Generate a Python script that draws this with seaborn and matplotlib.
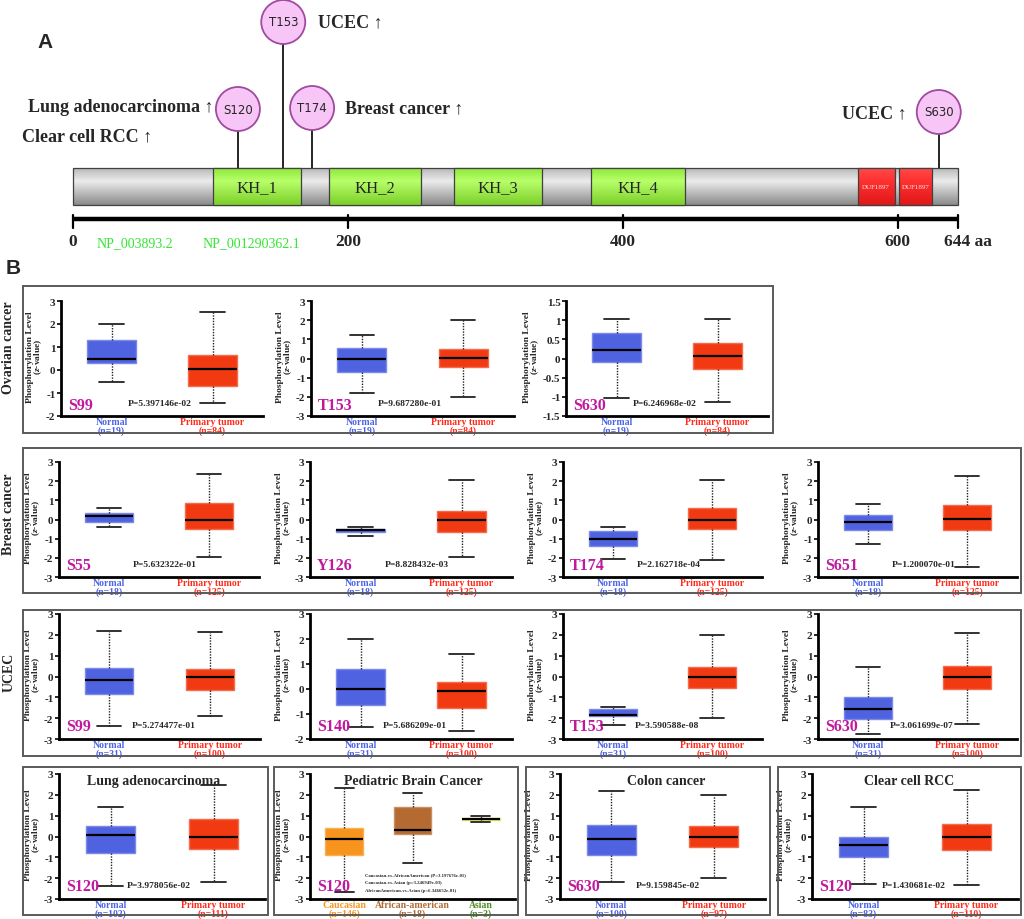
import numpy as np
import pandas as pd
import matplotlib
matplotlib.use("Agg")
import matplotlib.pyplot as plt
from matplotlib.patches import Rectangle, Ellipse
from matplotlib.colors import to_rgb
import seaborn as sns

# ---------------- Panel A data ----------------
protein_length = 644
domain_names = ["KH_1", "KH_2", "KH_3", "KH_4", "DUF1897", "DUF1897"]
domain_start = [102, 186, 277, 377, 571, 601]
domain_end = [166, 253, 341, 445, 598, 625]
site_names = ["S120", "T153", "T174", "S630"]
site_pos = [120, 153, 174, 630]
scale_ticks = [0, 200, 400, 600]
refseq_labels = ["NP_003893.2", "NP_001290362.1"]

# ---------------- Panel B data (five-number summaries: low, q1, median, q3, high) ----------------
ovarian_sites = ["S99", "T153", "S630"]
ovarian_p = ["5.397146e-02", "9.687280e-01", "6.246968e-02"]
ovarian_normal = [[-0.53, 0.29, 0.47, 1.31, 2.00], [-1.81, -0.69, -0.05, 0.53, 1.21], [-1.02, -0.09, 0.22, 0.66, 1.04]]
ovarian_tumor = [[-1.44, -0.69, 0.04, 0.66, 2.54], [-2.00, -0.45, 0.02, 0.48, 2.03], [-1.14, -0.27, 0.07, 0.40, 1.03]]
ovarian_n = [19, 84]

breast_sites = ["S55", "Y126", "T174", "S651"]
breast_p = ["5.632322e-01", "8.828432e-03", "2.162718e-04", "1.200070e-01"]
breast_normal = [[-0.41, -0.14, 0.19, 0.33, 0.62], [-0.84, -0.67, -0.57, -0.50, -0.41],
                 [-2.08, -1.39, -1.01, -0.62, -0.41], [-1.29, -0.57, -0.14, 0.21, 0.81]]
breast_tumor = [[-1.96, -0.52, -0.02, 0.84, 2.39], [-1.94, -0.67, -0.05, 0.45, 2.06],
                [-2.13, -0.50, -0.02, 0.60, 2.06], [-2.49, -0.57, 0.05, 0.74, 2.25]]
breast_n = [18, 125]

ucec_sites = ["S99", "S140", "T153", "S630"]
ucec_p = ["5.274477e-01", "5.686209e-01", "3.590588e-08", "3.061699e-07"]
ucec_normal = [[-2.39, -0.85, -0.16, 0.40, 2.18], [-1.52, -0.64, 0.00, 0.81, 2.01],
               [-2.32, -1.90, -1.85, -1.57, -1.46], [-2.76, -2.03, -1.57, -0.96, 0.47]]
ucec_tumor = [[-1.91, -0.67, -0.02, 0.35, 2.12], [-1.69, -0.76, -0.09, 0.29, 1.40],
              [-2.00, -0.57, 0.00, 0.44, 1.98], [-2.27, -0.58, -0.02, 0.49, 2.11]]
ucec_n = [31, 100]

lung_normal = [-2.38, -0.78, 0.05, 0.49, 1.41]
lung_tumor = [-2.20, -0.61, 0.00, 0.82, 2.45]
lung_n = [102, 111]
lung_p = "3.978056e-02"

ped_groups = ["Caucasian", "African-american", "Asian"]
ped_summary = [[-2.66, -0.89, -0.12, 0.43, 2.34], [-1.25, 0.14, 0.31, 1.44, 2.08], [0.70, 0.80, 0.85, 0.90, 0.99]]
ped_n = [146, 18, 3]
ped_tests = ["Caucasian-vs-AfricanAmerican (P=3.197676e-01)",
             "Caucasian-vs-Asian (p=3.246949e-03)",
             "AfricanAmerican-vs-Asian (p=6.346652e-01)"]

colon_normal = [-2.17, -0.89, -0.12, 0.54, 2.20]
colon_tumor = [-2.00, -0.49, 0.00, 0.50, 2.00]
colon_n = [100, 97]
colon_p = "9.159845e-02"

rcc_normal = [-2.30, -0.97, -0.43, 0.00, 1.42]
rcc_tumor = [-2.34, -0.66, 0.00, 0.62, 2.24]
rcc_n = [83, 110]
rcc_p = "1.430681e-02"

# ---------------- style ----------------
sns.set_theme(style="white")
plt.rcParams["font.family"] = ["Liberation Serif", "DejaVu Serif"]
plt.rcParams["font.weight"] = "bold"
plt.rcParams["axes.unicode_minus"] = False
plt.rcParams["mathtext.fontset"] = "custom"
plt.rcParams["mathtext.it"] = "Liberation Serif:italic:bold"
plt.rcParams["mathtext.rm"] = "Liberation Serif:bold"

W, H = 1024, 920
fig = plt.figure(figsize=(W / 100, H / 100), dpi=100)
fig.patch.set_facecolor("white")

BLUE = "#4f63e0"
RED = "#f23a12"
BLUE_TXT = "#4b64e6"
RED_TXT = "#ff2a1a"
MAG = "#c0189e"


def px_axes(l, t, r, b):
    return fig.add_axes([l / W, 1 - b / H, (r - l) / W, (b - t) / H])


def frame(l, t, r, b):
    fig.add_artist(Rectangle((l / W, 1 - b / H), (r - l) / W, (b - t) / H,
                             transform=fig.transFigure, fill=False, ec="#5a5a5a", lw=1.4))


# ---------------- Panel A ----------------
k = (958 - 73) / protein_length
axA = px_axes(0, 0, W, 280)
axA.set_xlim(-73 / k, (W - 73) / k)
axA.set_ylim(280, 0)
axA.axis("off")


def grad_rect(ax, x0, x1, y0, y1, top, mid, bot, zorder=2):
    t = np.linspace(0, 1, 60)
    ct, cm, cb = np.array(to_rgb(top)), np.array(to_rgb(mid)), np.array(to_rgb(bot))
    cols = []
    for v in t:
        if v < 0.35:
            a = v / 0.35
            cols.append(ct * (1 - a) + cm * a)
        else:
            a = (v - 0.35) / 0.65
            cols.append(cm * (1 - a) + cb * a)
    img = np.array(cols)[:, None, :]
    ax.imshow(img, extent=[x0, x1, y1, y0], origin="upper", aspect="auto", zorder=zorder,
              interpolation="bilinear")
    ax.add_patch(Rectangle((x0, y0), x1 - x0, y1 - y0, fill=False, ec="#404040", lw=0.9, zorder=zorder + 0.5))


bar_top, bar_bot = 169, 206
grad_rect(axA, 0, protein_length, bar_top, bar_bot, "#b8b8b8", "#ececec", "#8a8a8a", zorder=2)
for name, s, e in zip(domain_names, domain_start, domain_end):
    if name.startswith("KH"):
        grad_rect(axA, s, e, bar_top, bar_bot, "#8fe83c", "#b8ff6a", "#7ccf2a", zorder=3)
        axA.text((s + e) / 2, (bar_top + bar_bot) / 2 + 1, name, ha="center", va="center",
                 fontsize=12, fontweight="normal", zorder=5)
    else:
        grad_rect(axA, s, e, bar_top, bar_bot, "#ff4a4a", "#ff3030", "#e01818", zorder=3)
        axA.text((s + e) / 2, (bar_top + bar_bot) / 2, name, ha="center", va="center",
                 fontsize=5, fontweight="normal", color="#f8e8e8", zorder=5)

site_circle_y = {"S120": 110, "T153": 23, "T174": 109, "S630": 113}
r_px = 22
for name, pos in zip(site_names, site_pos):
    cy = site_circle_y[name]
    axA.plot([pos, pos], [bar_top, cy + r_px], color="black", lw=1.2, zorder=1)
    axA.add_patch(Ellipse((pos, cy), 2 * r_px / k, 2 * r_px, fc="#f7c6f7", ec="#a04aa0", lw=1.3, zorder=4))
    axA.text(pos, cy, name, ha="center", va="center", fontsize=8.5, fontweight="normal",
             family=["DejaVu Sans"], zorder=5)

lbl_kw = dict(fontsize=13, fontweight="bold", va="center", family=["Liberation Serif", "DejaVu Serif"])
axA.text((213 - 73) / k, 107, "Lung adenocarcinoma ↑", ha="right", **lbl_kw)
axA.text((22 - 73) / k, 137, "Clear cell RCC ↑", ha="left", **lbl_kw)
axA.text((318 - 73) / k, 23, "UCEC ↑", ha="left", **lbl_kw)
axA.text((345 - 73) / k, 109, "Breast cancer ↑", ha="left", **lbl_kw)
axA.text((907 - 73) / k, 114, "UCEC ↑", ha="right", **lbl_kw)

# scale bar
axA.plot([0, protein_length], [220, 220], color="black", lw=3.2, solid_capstyle="butt")
for tk in scale_ticks + [protein_length]:
    axA.plot([tk, tk], [216, 229], color="black", lw=1.6)
for tk in scale_ticks:
    axA.text(tk, 242, str(tk), ha="center", va="center", fontsize=12.5, fontweight="bold")
axA.text(protein_length - 10, 242, f"{protein_length} aa", ha="left", va="center", fontsize=12.5, fontweight="bold")
axA.text((135 - 73) / k, 244, refseq_labels[0], ha="center", va="center", fontsize=10,
         fontweight="normal", color="#33e633")
axA.text((251 - 73) / k, 244, refseq_labels[1], ha="center", va="center", fontsize=10,
         fontweight="normal", color="#33e633")

fig.text(45 / W, 1 - 42 / H, "A", fontsize=15, fontweight="bold", family=["Liberation Sans", "DejaVu Sans"],
         ha="center", va="center")
fig.text(13 / W, 1 - 268 / H, "B", fontsize=15, fontweight="bold", family=["Liberation Sans", "DejaVu Sans"],
         ha="center", va="center")


# ---------------- Panel B ----------------
def draw_box(ax, groups, summaries, fills, text_colors, labels, ylim, yticks, width=0.48):
    rows = []
    for g, s in zip(groups, summaries):
        for v in s:
            rows.append((g, v))
    df = pd.DataFrame(rows, columns=["group", "value"])
    sns.boxplot(data=df, x="group", y="value", hue="group", order=groups, hue_order=groups,
                palette=dict(zip(groups, fills)), saturation=1, width=width, whis=(0, 100),
                dodge=False, legend=False, linecolor="black", linewidth=1.0,
                whiskerprops=dict(linestyle=(0, (1, 1)), linewidth=1.0, color="#222222"),
                capprops=dict(linewidth=1.3, color="#222222"),
                medianprops=dict(color="black", linewidth=1.6),
                showfliers=False, ax=ax)
    for p in ax.patches:
        fc = np.array(p.get_facecolor()[:3])
        p.set_edgecolor(tuple(np.clip(fc * 0.75 + 0.25, 0, 1)))
        p.set_linewidth(1.0)
    ax.set_xlim(-0.5, len(groups) - 0.5)
    ax.set_ylim(*ylim)
    ticklabels = [f"{t:g}" for t in yticks]
    ax.set_yticks(yticks)
    ax.set_yticklabels(ticklabels)
    ax.set_xticks(range(len(groups)))
    ax.set_xticklabels(labels, fontsize=7, fontweight="bold", linespacing=0.8)
    for tl, c in zip(ax.get_xticklabels(), text_colors):
        tl.set_color(c)
    ax.set_xlabel("")
    ax.set_ylabel("Phosphorylation Level\n($\\mathit{z}$-value)", fontsize=6.8, fontweight="bold",
                  linespacing=0.8)
    w_px = ax.get_position().width * W
    off = 17 if all("." not in s for s in ticklabels) else 25
    ax.yaxis.set_label_coords(-off / w_px, 0.52)
    ax.tick_params(axis="x", length=0, pad=1)
    ax.tick_params(axis="y", length=3, width=1.4, labelsize=8, pad=1, left=True, direction="out")
    for tl in ax.get_yticklabels():
        tl.set_fontweight("bold")
    sns.despine(ax=ax)
    for side in ["left", "bottom"]:
        ax.spines[side].set_linewidth(2)
        ax.spines[side].set_color("black")
    ax.set_facecolor("none")


def site_text(ax, site, pval=None, px=0.35):
    ax.text(0.035, 0.1, site, transform=ax.transAxes, color=MAG, fontsize=11.5, fontweight="bold",
            va="center", ha="left")
    if pval is not None:
        ax.text(px, 0.11, f"P={pval}", transform=ax.transAxes, fontsize=6.8, fontweight="bold",
                va="center", ha="left")


def tn_panel(ax, site, pval, normal, tumor, n, ylim, yticks, px=0.35):
    draw_box(ax, ["Normal", "Primary tumor"], [normal, tumor], [BLUE, RED], [BLUE_TXT, RED_TXT],
             [f"Normal\n(n={n[0]})", f"Primary tumor\n(n={n[1]})"], ylim, yticks)
    site_text(ax, site, pval, px)


row_label_kw = dict(rotation=90, ha="center", va="center", fontsize=10, fontweight="bold")

# Row 1: Ovarian
frame(23, 287, 773, 434)
fig.text(9 / W, 1 - 348 / H, "Ovarian cancer", **row_label_kw)
r1_x = [(61, 263), (311, 514), (566, 768)]
r1_ylim = [(-2, 3), (-3, 3), (-1.5, 1.5)]
r1_ticks = [np.arange(-2, 3.1, 1), np.arange(-3, 3.1, 1), np.arange(-1.5, 1.6, 0.5)]
for i in range(3):
    ax = px_axes(r1_x[i][0], 302, r1_x[i][1], 417)
    tn_panel(ax, ovarian_sites[i], ovarian_p[i], ovarian_normal[i], ovarian_tumor[i], ovarian_n,
             r1_ylim[i], r1_ticks[i], px=0.33)

# Row 2: Breast
frame(23, 449, 1021, 594)
fig.text(9 / W, 1 - 514 / H, "Breast cancer", **row_label_kw)
r2_x = [(59, 259), (310, 512), (563, 762), (818, 1017)]
for i in range(4):
    ax = px_axes(r2_x[i][0], 463, r2_x[i][1], 578)
    tn_panel(ax, breast_sites[i], breast_p[i], breast_normal[i], breast_tumor[i], breast_n,
             (-3, 3), np.arange(-3, 3.1, 1), px=0.37)

# Row 3: UCEC
frame(23, 611, 1021, 757)
fig.text(9 / W, 1 - 672 / H, "UCEC", **row_label_kw)
r3_x = [(59, 260), (310, 512), (563, 762), (818, 1017)]
r3_ylim = [(-3, 3), (-2, 3), (-3, 3), (-3, 3)]
for i in range(4):
    ax = px_axes(r3_x[i][0], 615, r3_x[i][1], 740)
    tn_panel(ax, ucec_sites[i], ucec_p[i], ucec_normal[i], ucec_tumor[i], ucec_n,
             r3_ylim[i], np.arange(r3_ylim[i][0], 3.1, 1), px=0.36)

# Row 4
r4_frames = [(23, 268), (274, 518), (526, 770), (778, 1021)]
for l, r in r4_frames:
    frame(l, 768, r, 916)
r4_x = [(59, 265), (310, 515), (560, 765), (812, 1018)]
titles = ["Lung adenocarcinoma", "Pediatric Brain Cancer", "Colon cancer", "Clear cell RCC"]
title_cx = [154, 413, 666, 909]
for t, cx in zip(titles, title_cx):
    fig.text(cx / W, 1 - 782 / H, t, ha="center", va="center", fontsize=10, fontweight="bold")

yt = np.arange(-3, 3.1, 1)
ax = px_axes(r4_x[0][0], 775, r4_x[0][1], 900)
tn_panel(ax, "S120", lung_p, lung_normal, lung_tumor, lung_n, (-3, 3), yt, px=0.33)

ax = px_axes(r4_x[1][0], 775, r4_x[1][1], 900)
draw_box(ax, ped_groups, ped_summary, ["#f7941d", "#b56a32", "#dde31c"],
         ["#f7941d", "#b06a34", "#4f8a1f"],
         [f"{g}\n(n={n})" for g, n in zip(ped_groups, ped_n)], (-3, 3), yt, width=0.55)
site_text(ax, "S120")
for j, line in enumerate(ped_tests):
    ax.text(0.27, 0.20 - j * 0.065, line, transform=ax.transAxes, fontsize=3.4, fontweight="bold",
            va="center", ha="left")

ax = px_axes(r4_x[2][0], 775, r4_x[2][1], 900)
tn_panel(ax, "S630", colon_p, colon_normal, colon_tumor, colon_n, (-3, 3), yt, px=0.37)

ax = px_axes(r4_x[3][0], 775, r4_x[3][1], 900)
tn_panel(ax, "S120", rcc_p, rcc_normal, rcc_tumor, rcc_n, (-3, 3), yt, px=0.34)

fig.savefig("out.png", dpi=100, facecolor="white")
